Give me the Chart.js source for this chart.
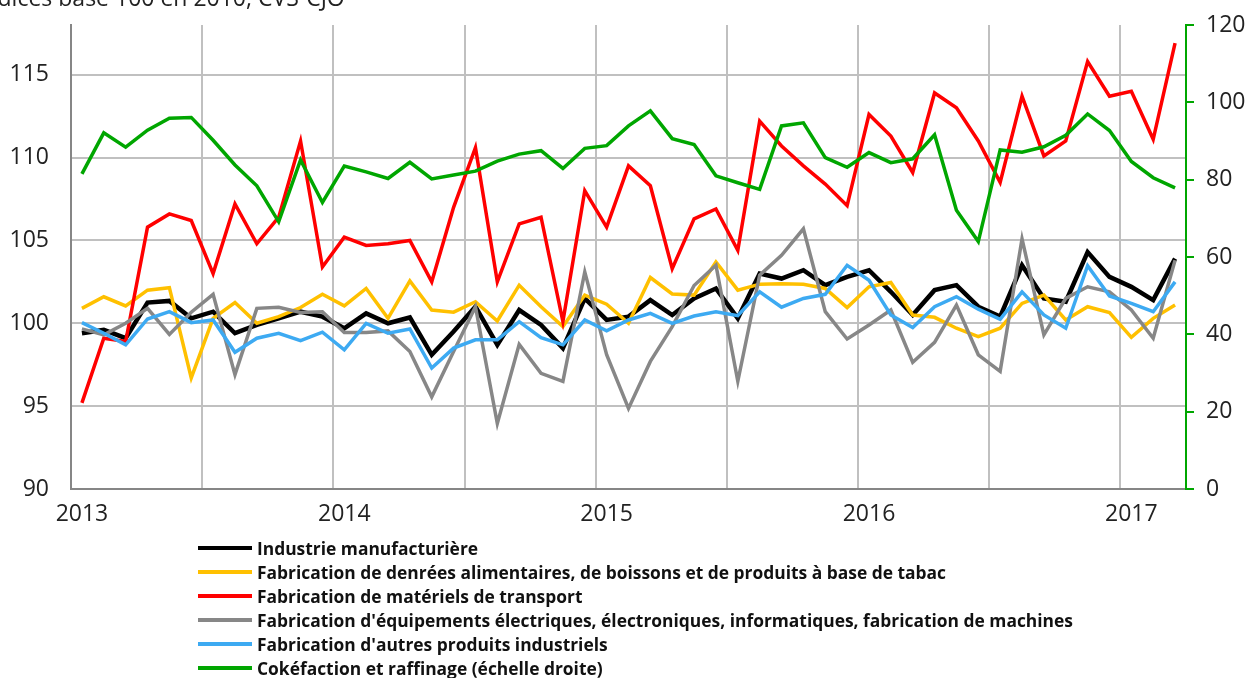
<!DOCTYPE html>
<html lang="fr">
<head>
<meta charset="UTF-8">
<title>Production manufacturière - indices</title>
<script src="https://cdn.jsdelivr.net/npm/chart.js"></script>
<style>
  html, body { margin: 0; padding: 0; background: #fff; }
  #wrap { position: relative; width: 1248px; height: 678px; overflow: hidden; font-family: "Open Sans", sans-serif; }
  #titre { position: absolute; left: -23px; top: -14px; font-size: 23px; line-height: 23px; color: #222; white-space: nowrap; }
  #legende { position: absolute; left: 198px; top: 536px; }
  .item { display: flex; align-items: center; height: 24px; font-weight: bold; font-size: 17.4px; color: #111; white-space: nowrap; }
  .trait { width: 54px; height: 4px; margin-right: 5px; }
</style>
</head>
<body>
<div id="wrap">
  <canvas id="graph" width="1248" height="678"></canvas>
  <div id="titre">Indices base 100 en 2010, CVS-CJO</div>
  <div id="legende"></div>
</div>

<script>
// mois de janvier 2013 a mars 2017
const mois = [
  "01/2013","02/2013","03/2013","04/2013","05/2013","06/2013","07/2013","08/2013","09/2013","10/2013","11/2013","12/2013",
  "01/2014","02/2014","03/2014","04/2014","05/2014","06/2014","07/2014","08/2014","09/2014","10/2014","11/2014","12/2014",
  "01/2015","02/2015","03/2015","04/2015","05/2015","06/2015","07/2015","08/2015","09/2015","10/2015","11/2015","12/2015",
  "01/2016","02/2016","03/2016","04/2016","05/2016","06/2016","07/2016","08/2016","09/2016","10/2016","11/2016","12/2016",
  "01/2017","02/2017","03/2017"
];

const manufacturiere = [
  99.4, 99.6, 99.1, 101.25, 101.35, 100.3, 100.7, 99.4, 99.9, 100.3, 100.7, 100.4,
  99.7, 100.6, 100.0, 100.35, 98.1, 99.5, 101.0, 98.7, 100.8, 99.9, 98.5, 101.5,
  100.2, 100.4, 101.4, 100.5, 101.5, 102.1, 100.3, 103.0, 102.7, 103.2, 102.3, 102.8,
  103.2, 101.9, 100.5, 102.0, 102.3, 101.0, 100.4, 103.5, 101.5, 101.3, 104.3, 102.8,
  102.2, 101.4, 103.9
];
const alimentaire = [
  100.9, 101.6, 101.05, 102.0, 102.15, 96.7, 100.3, 101.25, 100.0, 100.4, 100.95, 101.75,
  101.05, 102.1, 100.3, 102.56, 100.8, 100.67, 101.3, 100.14, 102.3, 101.0, 99.8, 101.7,
  101.15, 100.0, 102.76, 101.77, 101.7, 103.7, 102.0, 102.36, 102.38, 102.36, 102.1, 100.95,
  102.2, 102.46, 100.5, 100.36, 99.7, 99.2, 99.7, 101.2, 101.7, 100.2, 101.0, 100.65,
  99.15, 100.3, 101.1
];
const transport = [
  95.2, 99.1, 98.9, 105.8, 106.6, 106.2, 103.0, 107.2, 104.8, 106.4, 111.0, 103.4,
  105.2, 104.7, 104.8, 105.0, 102.5, 107.0, 110.6, 102.5, 106.0, 106.4, 100.1, 108.0,
  105.8, 109.5, 108.3, 103.3, 106.3, 106.9, 104.4, 112.2, 110.7, 109.5, 108.4, 107.1,
  112.6, 111.3, 109.1, 113.9, 113.0, 111.0, 108.5, 113.7, 110.1, 111.0, 115.8, 113.7,
  114.0, 111.1, 116.9
];
const equipements = [
  99.66, 99.3, 100.0, 100.9, 99.33, 100.67, 101.75, 96.9, 100.9, 100.97, 100.65, 100.7,
  99.44, 99.44, 99.54, 98.3, 95.56, 98.3, 101.0, 93.95, 98.73, 96.98, 96.5, 103.1,
  98.1, 94.86, 97.7, 99.8, 102.28, 103.5, 96.5, 102.9, 104.1, 105.7, 100.7, 99.05,
  99.9, 100.8, 97.64, 98.85, 101.1, 98.1, 97.1, 105.1, 99.3, 101.5, 102.2, 101.9,
  100.8, 99.1, 103.8
];
const autres = [
  100.04, 99.4, 98.7, 100.26, 100.7, 100.04, 100.2, 98.25, 99.1, 99.4, 98.95, 99.46,
  98.4, 100.0, 99.4, 99.66, 97.3, 98.5, 99.0, 99.0, 100.1, 99.13, 98.7, 100.2,
  99.54, 100.2, 100.6, 100.0, 100.44, 100.7, 100.46, 101.9, 100.97, 101.5, 101.75, 103.5,
  102.6, 100.5, 99.74, 101.0, 101.6, 100.85, 100.24, 101.9, 100.5, 99.7, 103.47, 101.65,
  101.2, 100.7, 102.5
];
// echelle droite
const raffinage = [
  81.5, 92.1, 88.4, 92.8, 95.9, 96.1, 90.2, 83.8, 78.4, 69.1, 85.1, 74.1,
  83.5, 82.0, 80.3, 84.5, 80.2, 81.2, 82.2, 84.8, 86.6, 87.5, 82.9, 88.1,
  88.8, 93.9, 97.8, 90.6, 89.1, 81.0, 79.2, 77.5, 93.9, 94.7, 85.7, 83.2,
  87.0, 84.4, 85.4, 91.6, 72.1, 64.0, 87.7, 87.1, 88.5, 91.5, 97.0, 92.7,
  84.7, 80.5, 77.9
];

const series = [
  { nom: "Industrie manufacturière", data: manufacturiere, couleur: "#000000", axe: "y", epaisseur: 4.5 },
  { nom: "Fabrication de denrées alimentaires, de boissons et de produits à base de tabac", data: alimentaire, couleur: "#ffc000", axe: "y", epaisseur: 3.5 },
  { nom: "Fabrication de matériels de transport", data: transport, couleur: "#ff0000", axe: "y", epaisseur: 3.5 },
  { nom: "Fabrication d'équipements électriques, électroniques, informatiques, fabrication de machines", data: equipements, couleur: "#878787", axe: "y", epaisseur: 3.5 },
  { nom: "Fabrication d'autres produits industriels", data: autres, couleur: "#3daaf2", axe: "y", epaisseur: 3.5 },
  { nom: "Cokéfaction et raffinage (échelle droite)", data: raffinage, couleur: "#00a600", axe: "y2", epaisseur: 3.5 }
];

const gris = "#c0c0c0";
const texte = "#222";

const chart = new Chart(document.getElementById("graph"), {
  type: "line",
  data: {
    labels: mois,
    datasets: series.map((s, i) => ({
      label: s.nom,
      data: s.data,
      borderColor: s.couleur,
      borderWidth: s.epaisseur,
      yAxisID: s.axe,
      pointRadius: 0,
      tension: 0,
      fill: false,
      order: series.length - i
    }))
  },
  options: {
    responsive: false,
    animation: false,
    layout: { padding: { top: 25, left: 0, right: 0, bottom: 0 } },
    plugins: { legend: { display: false }, tooltip: { enabled: false } },
    scales: {
      x: {
        offset: true,
        grid: {
          offset: true,
          drawTicks: false,
          lineWidth: 2,
          color: ctx => (ctx.index > 0 && ctx.index < mois.length && ctx.index % 6 === 0) ? gris : "rgba(0,0,0,0)"
        },
        border: { color: "#868686", width: 2 },
        ticks: {
          autoSkip: false,
          maxRotation: 0,
          padding: 12,
          color: texte,
          font: { family: "Open Sans", size: 23 },
          callback: (v, i) => i % 12 === 0 ? mois[i].slice(3) : ""
        },
        afterFit: s => { s.height = 189; }
      },
      y: {
        position: "left",
        min: 90,
        max: 118,
        grid: { drawTicks: false, color: gris, lineWidth: 2 },
        border: { color: "#868686", width: 2 },
        ticks: {
          stepSize: 5,
          includeBounds: false,
          padding: 22,
          color: texte,
          font: { family: "Open Sans", size: 23 }
        },
        afterFit: s => { s.width = 71; s.paddingTop = 0; s.paddingBottom = 0; }
      },
      y2: {
        position: "right",
        min: 0,
        max: 120,
        grid: { drawOnChartArea: false, color: "#00a600", lineWidth: 2, tickLength: 8 },
        border: { color: "#00a600", width: 2 },
        ticks: {
          stepSize: 20,
          padding: 12,
          color: texte,
          font: { family: "Open Sans", size: 23 }
        },
        afterFit: s => { s.width = 62; s.paddingTop = 0; s.paddingBottom = 0; }
      }
    }
  }
});

// legende verticale sous le graphique
const legende = document.getElementById("legende");
chart.data.datasets.forEach(ds => {
  const ligne = document.createElement("div");
  ligne.className = "item";
  const trait = document.createElement("span");
  trait.className = "trait";
  trait.style.background = ds.borderColor;
  const lib = document.createElement("span");
  lib.textContent = ds.label;
  ligne.appendChild(trait);
  ligne.appendChild(lib);
  legende.appendChild(ligne);
});
</script>
</body>
</html>
